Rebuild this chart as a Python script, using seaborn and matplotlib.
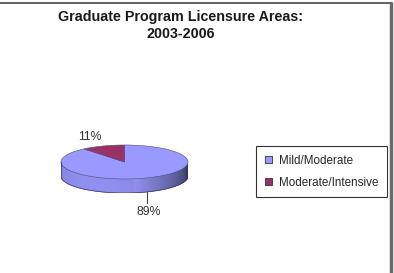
import numpy as np
import matplotlib.pyplot as plt
from matplotlib.patches import Polygon, Patch
from matplotlib.lines import Line2D
import seaborn as sns

# data
categories = ['Mild/Moderate', 'Moderate/Intensive']
shares = [89, 11]
pct_labels = ['89%', '11%']
title = 'Graduate Program Licensure Areas:\n2003-2006'

sns.set_style('white')
plt.rcParams['font.family'] = ['Liberation Sans', 'DejaVu Sans']
colors = sns.color_palette(['#9999FF', '#993366'])

W, H = 394, 273
fig = plt.figure(figsize=(W / 100, H / 100), dpi=100)
fig.patch.set_facecolor('white')

# pie geometry in pixels
cx, rx = 124.5, 63.5
top_y, ry = 145, 17
depth = 14
d = depth / ry

left = (cx - rx) / W
bottom = (H - (top_y + 2 * ry + depth)) / H
ax = fig.add_axes([left, bottom, 2 * rx / W, (2 * ry + depth) / H])

# top face
wedges, _ = ax.pie(shares, colors=colors, startangle=90, counterclock=False,
                   wedgeprops=dict(edgecolor='#4a4a7a', linewidth=0.4))
for w in wedges:
    w.set_zorder(3)

# side of the disc (front half only), shaded like a cylinder
bounds = 90 - np.cumsum([0] + shares) / sum(shares) * 360  # clockwise from top


def slice_at(theta):
    t = theta
    while t > 90:
        t -= 360
    while t <= 90 - 360:
        t += 360
    for i in range(len(shares)):
        if bounds[i + 1] <= t <= bounds[i]:
            return i
    return 0


n = 180
angles = np.linspace(180, 360, n + 1)
for a1, a2 in zip(angles[:-1], angles[1:]):
    m = (a1 + a2) / 2
    base = np.array(colors[slice_at(m)])
    u = (m - 180) / 180
    shade = 0.84 + 0.10 * np.sin(np.pi * u * 1.4) if u < 0.55 else 0.94 - (u - 0.55) / 0.45 * 0.6
    c = np.clip(base * shade, 0, 1)
    r1, r2 = np.radians(a1), np.radians(a2)
    poly = Polygon([(np.cos(r1), np.sin(r1)), (np.cos(r2), np.sin(r2)),
                    (np.cos(r2), np.sin(r2) - d), (np.cos(r1), np.sin(r1) - d)],
                   closed=True, facecolor=c, edgecolor=c, linewidth=0.6, zorder=2)
    ax.add_patch(poly)

th = np.radians(np.linspace(180, 360, 200))
ax.plot(np.cos(th), np.sin(th) - d, color='#3a3a66', lw=0.5, zorder=4)
ax.plot([-1, -1], [0, -d], color='#3a3a66', lw=0.5, zorder=4)
ax.plot([1, 1], [0, -d], color='#3a3a66', lw=0.5, zorder=4)

# percentage labels
for i, lab in enumerate(pct_labels[::-1]):
    k = len(shares) - 1 - i
    mid = np.radians((bounds[k] + bounds[k + 1]) / 2)
    x, y = np.cos(mid), np.sin(mid)
    if y >= 0:
        ax.text(1.6 * x, 1.55 * y, lab, ha='center', va='center', fontsize=8.8,
                color='#333333', clip_on=False)
    else:
        ax.plot([x * 1.05, x * 1.05], [y - d, y - d - 0.65], color='#444444',
                lw=0.8, clip_on=False)
        ax.text(x * 1.15, y - d - 1.2, lab, ha='center', va='center', fontsize=8.8,
                color='#333333', clip_on=False)

ax.set_aspect('auto')
ax.set_xlim(-1, 1)
ax.set_ylim(-1 - d, 1)
ax.axis('off')

# legend
handles = [Patch(facecolor=c, edgecolor='#333333', linewidth=0.6) for c in colors]
leg = fig.legend(handles, categories, loc='upper left',
                 bbox_to_anchor=(256 / W, 1 - 146 / H), fontsize=8.4,
                 frameon=True, fancybox=False, handlelength=0.6, handleheight=0.6,
                 handletextpad=0.6, labelspacing=0.85, borderpad=0.75,
                 borderaxespad=0)
leg.get_frame().set_edgecolor('black')
leg.get_frame().set_linewidth(0.8)

fig.text(181 / W, 1 - 10 / H, title, ha='center', va='top', fontsize=10.3,
         fontweight='bold', color='#1a1a1a', linespacing=1.3)

# outer frame (top and right edges)
fig.add_artist(Line2D([0, 391 / W], [1 - 2.5 / H, 1 - 2.5 / H], color='#555555', lw=1.3))
fig.add_artist(Line2D([391 / W, 391 / W], [0, 1 - 2.5 / H], color='#6a6a6a', lw=2.5))

fig.savefig('out.png', dpi=100)
